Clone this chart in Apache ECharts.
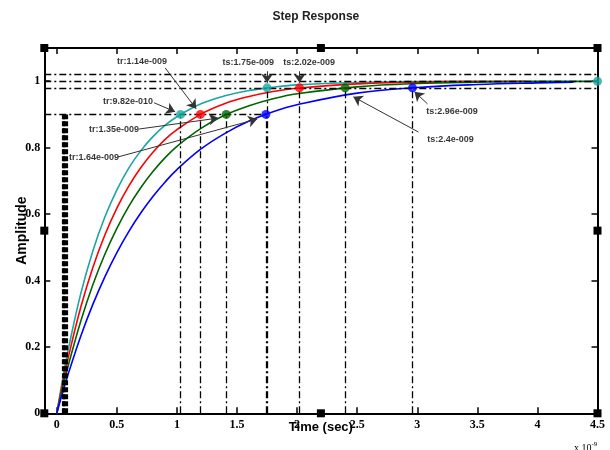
<!DOCTYPE html>
<html>
<head>
<meta charset="utf-8">
<script src="https://cdn.jsdelivr.net/npm/echarts@6/dist/echarts.min.js"></script>
<style>
  html, body { margin: 0; padding: 0; background: #fff; }
  #chart { width: 610px; height: 450px; }
</style>
</head>
<body>
<div id="chart"></div>
<script>
// ---- data (time in units of 1e-9 s) ----
const timeFull = [0, 0.05, 0.1, 0.2, 0.3, 0.4, 0.5, 0.6, 0.7, 0.8, 0.9, 1.0, 1.2, 1.4, 1.6, 1.8, 2.0, 2.5, 3.0, 3.5, 4.0, 4.5];
const timeRed  = [0, 0.05, 0.1, 0.2, 0.3, 0.4, 0.5, 0.6, 0.7, 0.8, 0.9, 1.0, 1.2, 1.4, 1.6, 1.8, 2.0, 2.5, 3.0, 3.5, 3.9];
const timeBlue = [0, 0.05, 0.1, 0.2, 0.3, 0.4, 0.5, 0.6, 0.7, 0.8, 0.9, 1.0, 1.2, 1.4, 1.6, 1.8, 2.0, 2.5, 3.0, 3.5, 4.0, 4.3];

const respCyan  = [0, 0.106, 0.200, 0.361, 0.489, 0.591, 0.673, 0.739, 0.791, 0.833, 0.867, 0.893, 0.932, 0.956, 0.972, 0.982, 0.989, 0.996, 0.999, 1.000, 1.000, 1.000];
const respRed   = [0, 0.092, 0.175, 0.320, 0.439, 0.537, 0.618, 0.685, 0.740, 0.786, 0.824, 0.854, 0.901, 0.933, 0.954, 0.969, 0.979, 0.992, 0.997, 0.999, 0.9995];
const respGreen = [0, 0.078, 0.150, 0.278, 0.387, 0.479, 0.557, 0.624, 0.680, 0.728, 0.769, 0.804, 0.858, 0.898, 0.926, 0.947, 0.962, 0.983, 0.993, 0.997, 0.999, 0.999];
const respBlue  = [0, 0.064, 0.124, 0.233, 0.328, 0.411, 0.484, 0.548, 0.604, 0.653, 0.696, 0.734, 0.796, 0.843, 0.880, 0.908, 0.929, 0.964, 0.981, 0.990, 0.995, 0.997];

// characteristic points, order: cyan, red, green, blue
const riseLevel   = 0.9;
const settleLevel = 0.98;
const finalValue  = 1.0;
const bandLevels  = [0.98, 1.0, 1.02];
const tenPctTimes = [0.047, 0.055, 0.065, 0.080];
const riseTimes   = [1.03, 1.195, 1.41, 1.74];
const settleTimes = [1.75, 2.02, 2.40, 2.96];
const riseLabels   = ['tr:9.82e-010', 'tr:1.14e-009', 'tr:1.35e-009', 'tr:1.64e-009'];
const settleLabels = ['ts:1.75e-009', 'ts:2.02e-009', 'ts:2.4e-009', 'ts:2.96e-009'];

const xTicks = [0, 0.5, 1, 1.5, 2, 2.5, 3, 3.5, 4, 4.5];
const yTicks = [0, 0.2, 0.4, 0.6, 0.8, 1];

// ---- annotation layout (axis coordinates) ----
const riseTextAt    = [[0.593, 0.938], [0.71, 1.058], [0.477, 0.856], [0.31, 0.771]];
const riseArrowFrom = [[0.81, 0.935], [0.902, 1.04], [0.685, 0.856], [0.51, 0.772]];
const riseArrowTo   = [[0.985, 0.908], [1.16, 0.917], [1.343, 0.889], [1.668, 0.886]];
const settleTextAt    = [[1.593, 1.055], [2.10, 1.055], [3.277, 0.823], [3.29, 0.908]];
const settleArrowFrom = [[1.75, 1.03], [2.02, 1.03], [3.01, 0.847], [3.085, 0.932]];
const settleArrowTo   = [[1.75, 0.995], [2.02, 0.995], [2.468, 0.953], [2.977, 0.968]];

// ---- styling ----
const colors = ['#1aa6a3', '#ff0000', '#006400', '#0000ff'];
const X_MIN = -0.104, X_MAX = 4.5, Y_MIN = 0, Y_MAX = 1.1;
const G = { left: 44.3, top: 48, right: 12.5, bottom: 36.7 };
const W = 610, H = 450;
const dashDot = [7, 3, 2, 3];
const sans = 'Liberation Sans, Arial, sans-serif';
const serif = 'Liberation Serif, Times New Roman, serif';

const zip = (xs, ys) => xs.map((x, i) => [x, ys[i]]);

function refLine(a, b) {
  return [{ coord: a }, { coord: b }];
}

// dash-dot guide lines
const guideLines = [];
bandLevels.forEach(v => guideLines.push(refLine([X_MIN, v], [X_MAX, v])));
guideLines.push(refLine([X_MIN, riseLevel], [Math.max(...riseTimes), riseLevel]));
riseTimes.forEach(t => guideLines.push(refLine([t, 0], [t, riseLevel])));
settleTimes.forEach(t => guideLines.push(refLine([t, 0], [t, settleLevel])));

// 10% crossing markers (they overlap into one heavy dashed band)
const startLines = tenPctTimes.map(t => refLine([t, 0], [t, riseLevel]));

// annotation arrows
const arrows = [];
riseArrowFrom.forEach((p, i) => arrows.push(refLine(p, riseArrowTo[i])));
settleArrowFrom.forEach((p, i) => arrows.push(refLine(p, settleArrowTo[i])));

// annotation texts
const texts = riseTextAt.map((p, i) => ({ value: p, name: riseLabels[i] }))
  .concat(settleTextAt.map((p, i) => ({ value: p, name: settleLabels[i] })));

const curves = [
  zip(timeFull, respCyan),
  zip(timeRed, respRed),
  zip(timeFull, respGreen),
  zip(timeBlue, respBlue)
];

const lineSeries = curves.map((d, i) => ({
  type: 'line',
  data: d,
  showSymbol: false,
  smooth: 0.4,
  lineStyle: { color: colors[i], width: 1.6 },
  z: 3,
  silent: true
}));

const markerSeries = colors.map((c, i) => {
  const pts = [[riseTimes[i], riseLevel], [settleTimes[i], settleLevel]];
  if (i === 0) pts.push([X_MAX, finalValue]);
  return {
    type: 'scatter',
    data: pts,
    symbol: 'circle',
    symbolSize: 9,
    itemStyle: { color: c },
    z: 6,
    silent: true
  };
});

const chart = echarts.init(document.getElementById('chart'), null, { renderer: 'canvas' });

const axisCommon = {
  type: 'value',
  splitLine: { show: false },
  axisLine: { show: true, onZero: false, lineStyle: { color: '#000', width: 2 } }
};

const option = {
  animation: false,
  backgroundColor: '#fff',
  grid: Object.assign({ containLabel: false, outerBoundsMode: 'none' }, G),
  xAxis: [
    Object.assign({}, axisCommon, {
      min: X_MIN, max: X_MAX, position: 'bottom',
      axisTick: { inside: true, length: 6, customValues: xTicks, lineStyle: { color: '#000', width: 1.5 } },
      axisLabel: { customValues: xTicks, color: '#000', fontFamily: serif, fontSize: 12, fontWeight: 'bold', margin: 6 },
      name: 'Time (sec)', nameLocation: 'middle', nameGap: 8, nameMoveOverlap: false,
      nameTextStyle: { color: '#000', fontFamily: sans, fontSize: 13, fontWeight: 'bold' }
    }),
    Object.assign({}, axisCommon, {
      min: X_MIN, max: X_MAX, position: 'top',
      axisTick: { inside: true, length: 6, customValues: xTicks, lineStyle: { color: '#000', width: 1.5 } },
      axisLabel: { show: false }
    })
  ],
  yAxis: [
    Object.assign({}, axisCommon, {
      min: Y_MIN, max: Y_MAX, position: 'left',
      axisTick: { inside: true, length: 6, customValues: yTicks, lineStyle: { color: '#000', width: 1.5 } },
      axisLabel: { customValues: yTicks, color: '#000', fontFamily: serif, fontSize: 12, fontWeight: 'bold', margin: 4 },
      name: 'Amplitude', nameLocation: 'middle', nameGap: 15, nameMoveOverlap: false,
      nameTextStyle: { color: '#000', fontFamily: sans, fontSize: 14, fontWeight: 'bold' }
    }),
    Object.assign({}, axisCommon, {
      min: Y_MIN, max: Y_MAX, position: 'right',
      axisTick: { inside: true, length: 6, customValues: yTicks, lineStyle: { color: '#000', width: 1.5 } },
      axisLabel: { show: false }
    })
  ],
  series: [
    {
      type: 'line',
      data: [],
      silent: true,
      markLine: {
        silent: true,
        symbol: ['none', 'none'],
        label: { show: false },
        lineStyle: { color: '#000', width: 1.3, type: dashDot },
        data: guideLines
      },
      z: 2
    },
    {
      type: 'line',
      data: [],
      silent: true,
      markLine: {
        silent: true,
        symbol: ['none', 'none'],
        label: { show: false },
        lineStyle: { color: '#000', width: 2.2, type: [5, 2] },
        data: startLines
      },
      z: 2
    },
    ...lineSeries,
    {
      type: 'line',
      data: [],
      silent: true,
      markLine: {
        silent: true,
        symbol: ['none', 'arrow'],
        symbolSize: 9,
        label: { show: false },
        lineStyle: { color: '#333', width: 1, type: 'solid' },
        data: arrows
      },
      z: 7
    },
    ...markerSeries,
    {
      type: 'scatter',
      data: texts,
      symbolSize: 1,
      itemStyle: { color: 'rgba(0,0,0,0)' },
      label: {
        show: true,
        position: 'inside',
        formatter: p => p.name,
        color: '#000',
        fontFamily: sans,
        fontSize: 9,
        fontWeight: 'bold'
      },
      silent: true,
      z: 8
    }
  ]
};

chart.setOption(option);

// frame handles at corners and edge midpoints, plus title and exponent
const xl = G.left, xr = W - G.right, yt = G.top, yb = H - G.bottom;
const xm = (xl + xr) / 2, ym = (yt + yb) / 2;
const handlePts = [[xl, yt], [xm, yt], [xr, yt], [xl, ym], [xr, ym], [xl, yb], [xm, yb], [xr, yb]];
const graphics = handlePts.map(p => ({
  type: 'rect',
  shape: { x: p[0] - 4, y: p[1] - 4, width: 8, height: 8 },
  style: { fill: '#000' },
  z: 20,
  silent: true
}));
graphics.push({
  type: 'text',
  x: xm - 5, y: 17,
  style: { text: 'Step Response', font: 'bold 12px ' + sans, fill: '#222', align: 'center', verticalAlign: 'middle' },
  z: 20
});
graphics.push({
  type: 'text',
  x: 574, y: 447,
  style: {
    text: '{b|x 10}{s|-9}',
    rich: {
      b: { font: '10px ' + serif, fill: '#000', verticalAlign: 'bottom' },
      s: { font: '7px ' + serif, fill: '#000', verticalAlign: 'top', padding: [0, 0, 6, 0] }
    },
    align: 'left', verticalAlign: 'middle'
  },
  z: 20
});
chart.setOption({ graphic: graphics });
</script>
</body>
</html>
